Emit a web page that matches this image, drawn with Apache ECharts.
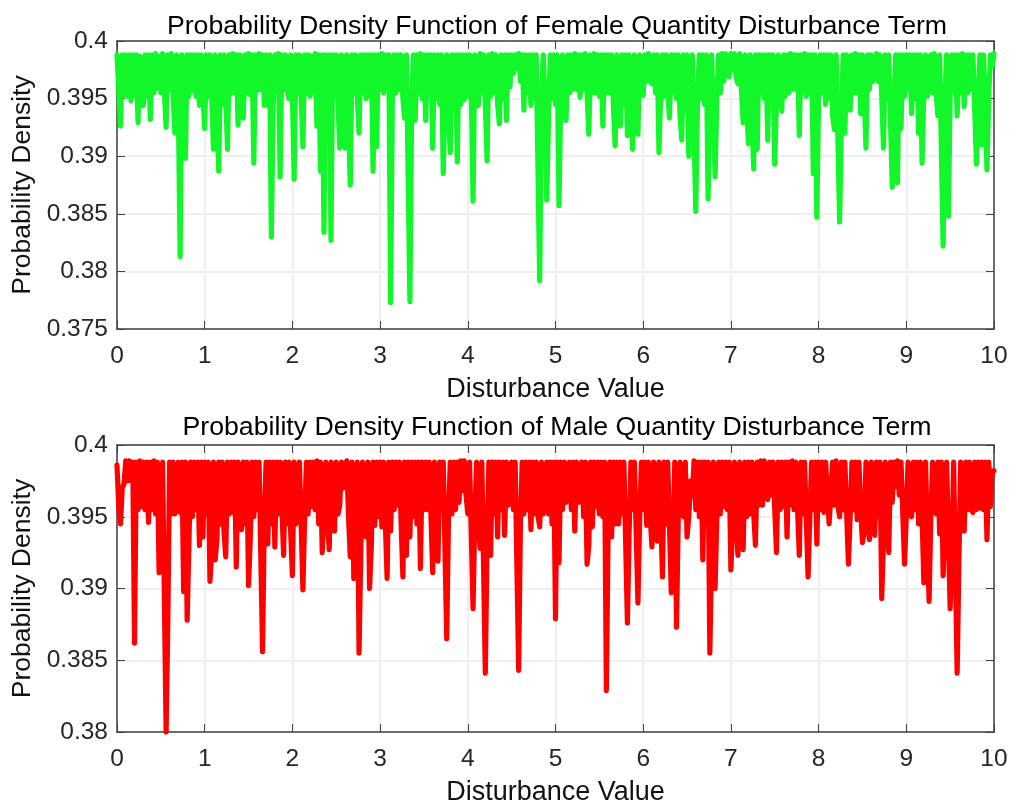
<!DOCTYPE html>
<html><head><meta charset="utf-8">
<style>html,body{margin:0;padding:0;background:#fff;overflow:hidden}#c{width:1022px;height:805px}</style>
<script src="https://cdn.jsdelivr.net/npm/echarts@6/dist/echarts.min.js"></script>
</head><body><div id="c"></div>
<script>
const sampleStep = 0.02;
const femaleTitle = 'Probability Density Function of Female Quantity Disturbance Term';
const maleTitle = 'Probability Density Function of Male Quantity Disturbance Term';
const xName = 'Disturbance Value';
const yName = 'Probability Density';
const femaleValues = [
.3988,.3958,.3926,.3988,.3953,.3988,.3952,.3988,.3948,.3988,
.3953,.3988,.3929,.3987,.3950,.3944,.3988,.3952,.3988,.3932,
.3988,.3955,.3989,.3959,.3987,.3955,.3989,.3957,.3925,.3988,
.3958,.3989,.3952,.3920,.3988,.3940,.3813,.3988,.3930,.3898,
.3988,.3952,.3988,.3957,.3988,.3952,.3988,.3944,.3988,.3952,
.3924,.3988,.3952,.3988,.3952,.3906,.3988,.3935,.3887,.3988,
.3945,.3988,.3952,.3906,.3988,.3955,.3989,.3955,.3988,.3927,
.3988,.3952,.3933,.3988,.3955,.3989,.3953,.3988,.3894,.3988,
.3957,.3989,.3958,.3988,.3944,.3988,.3944,.3988,.3830,.3940,
.3988,.3957,.3989,.3882,.3988,.3958,.3988,.3957,.3950,.3988,
.3955,.3880,.3988,.3955,.3988,.3952,.3908,.3988,.3955,.3988,
.3952,.3987,.3955,.3989,.3926,.3988,.3887,.3988,.3834,.3988,
.3950,.3988,.3827,.3988,.3952,.3988,.3988,.3907,.3988,.3950,
.3907,.3988,.3930,.3875,.3988,.3955,.3988,.3952,.3920,.3988,
.3955,.3988,.3950,.3988,.3952,.3988,.3887,.3988,.3908,.3988,
.3958,.3989,.3955,.3988,.3958,.3988,.3773,.3952,.3988,.3955,
.3988,.3958,.3988,.3950,.3933,.3988,.3988,.3774,.3945,.3988,
.3931,.3988,.3955,.3989,.3950,.3988,.3931,.3988,.3955,.3988,
.3907,.3988,.3950,.3988,.3945,.3988,.3885,.3952,.3988,.3935,
.3903,.3988,.3940,.3988,.3895,.3988,.3945,.3988,.3949,.3988,
.3952,.3988,.3955,.3861,.3988,.3950,.3944,.3989,.3955,.3988,
.3945,.3896,.3988,.3952,.3989,.3955,.3988,.3945,.3928,.3988,
.3950,.3988,.3931,.3988,.3960,.3988,.3972,.3988,.3976,.3989,
.3965,.3988,.3940,.3988,.3955,.3988,.3944,.3988,.3950,.3988,
.3988,.3792,.3950,.3988,.3950,.3862,.3930,.3988,.3950,.3988,
.3945,.3988,.3857,.3952,.3988,.3945,.3931,.3988,.3955,.3988,
.3958,.3989,.3958,.3988,.3951,.3988,.3958,.3989,.3955,.3919,
.3988,.3955,.3989,.3955,.3988,.3952,.3988,.3926,.3988,.3955,
.3988,.3955,.3988,.3945,.3909,.3988,.3988,.3926,.3988,.3945,
.3988,.3918,.3988,.3940,.3906,.3988,.3950,.3919,.3988,.3955,
.3953,.3988,.3965,.3989,.3965,.3963,.3988,.3955,.3988,.3903,
.3955,.3988,.3952,.3988,.3955,.3933,.3988,.3955,.3988,.3950,
.3988,.3935,.3914,.3988,.3940,.3988,.3900,.3952,.3988,.3988,
.3852,.3952,.3988,.3950,.3988,.3945,.3988,.3863,.3950,.3988,
.3988,.3882,.3950,.3988,.3955,.3989,.3965,.3989,.3975,.3969,
.3989,.3975,.3989,.3968,.3963,.3989,.3957,.3929,.3988,.3945,
.3911,.3988,.3935,.3889,.3988,.3906,.3988,.3955,.3988,.3950,
.3988,.3914,.3988,.3952,.3988,.3893,.3950,.3988,.3955,.3939,
.3988,.3952,.3988,.3955,.3989,.3958,.3988,.3958,.3988,.3918,
.3988,.3955,.3989,.3952,.3988,.3955,.3988,.3885,.3988,.3847,
.3950,.3988,.3955,.3988,.3945,.3988,.3950,.3988,.3935,.3923,
.3988,.3988,.3843,.3930,.3988,.3920,.3988,.3952,.3940,.3988,
.3955,.3989,.3955,.3988,.3937,.3988,.3955,.3907,.3988,.3958,
.3988,.3965,.3969,.3989,.3965,.3988,.3952,.3907,.3988,.3950,
.3988,.3988,.3873,.3950,.3988,.3877,.3988,.3924,.3988,.3952,
.3988,.3959,.3988,.3937,.3988,.3950,.3988,.3920,.3988,.3894,
.3958,.3988,.3952,.3953,.3988,.3955,.3989,.3955,.3935,.3988,
.3988,.3822,.3952,.3988,.3848,.3952,.3988,.3957,.3988,.3935,
.3988,.3955,.3989,.3943,.3988,.3955,.3988,.3958,.3988,.3988,
.3893,.3952,.3988,.3910,.3988,.3945,.3888,.3952,.3988,.3978,
.3989];
const maleValues = [
.3986,.3957,.3945,.3970,.3973,.3989,.3975,.3989,.3975,.3988,
.3862,.3988,.3955,.3989,.3957,.3988,.3955,.3988,.3946,.3988,
.3955,.3989,.3952,.3988,.3911,.3950,.3988,.3988,.3800,.3878,
.3988,.3952,.3988,.3952,.3951,.3988,.3953,.3988,.3898,.3988,
.3878,.3930,.3988,.3950,.3988,.3955,.3988,.3930,.3988,.3936,
.3988,.3952,.3988,.3905,.3925,.3988,.3920,.3935,.3988,.3945,
.3988,.3940,.3922,.3988,.3952,.3988,.3953,.3988,.3915,.3988,
.3950,.3941,.3988,.3945,.3988,.3902,.3935,.3988,.3950,.3988,
.3955,.3988,.3988,.3856,.3950,.3988,.3931,.3988,.3945,.3988,
.3929,.3988,.3952,.3988,.3955,.3923,.3988,.3945,.3988,.3940,
.3909,.3988,.3945,.3944,.3988,.3988,.3899,.3950,.3988,.3952,
.3988,.3957,.3988,.3955,.3989,.3945,.3988,.3925,.3952,.3988,
.3950,.3927,.3988,.3950,.3940,.3988,.3952,.3958,.3988,.3970,
.3981,.3989,.3950,.3922,.3988,.3907,.3950,.3988,.3855,.3925,
.3988,.3952,.3936,.3988,.3900,.3930,.3988,.3944,.3988,.3950,
.3988,.3943,.3988,.3945,.3907,.3988,.3940,.3988,.3955,.3988,
.3958,.3988,.3945,.3908,.3988,.3923,.3988,.3936,.3988,.3950,
.3988,.3945,.3988,.3914,.3988,.3955,.3988,.3955,.3988,.3950,
.3911,.3988,.3950,.3919,.3988,.3955,.3988,.3988,.3865,.3950,
.3988,.3952,.3988,.3955,.3988,.3960,.3989,.3968,.3989,.3965,
.3952,.3988,.3988,.3886,.3950,.3988,.3945,.3928,.3988,.3988,
.3841,.3935,.3988,.3923,.3988,.3952,.3988,.3936,.3988,.3955,
.3988,.3937,.3988,.3958,.3963,.3988,.3955,.3988,.3988,.3843,
.3945,.3988,.3952,.3988,.3955,.3988,.3941,.3988,.3952,.3988,
.3951,.3943,.3988,.3952,.3957,.3988,.3952,.3988,.3945,.3988,
.3879,.3988,.3918,.3988,.3955,.3988,.3960,.3966,.3988,.3955,
.3988,.3940,.3988,.3960,.3966,.3988,.3950,.3988,.3917,.3930,
.3988,.3943,.3988,.3957,.3988,.3952,.3988,.3950,.3988,.3829,
.3940,.3988,.3936,.3988,.3945,.3988,.3945,.3988,.3952,.3988,
.3988,.3876,.3940,.3988,.3955,.3988,.3988,.3890,.3950,.3988,
.3955,.3988,.3944,.3988,.3950,.3929,.3988,.3950,.3933,.3988,
.3950,.3908,.3988,.3945,.3988,.3988,.3897,.3930,.3988,.3873,
.3950,.3988,.3955,.3950,.3988,.3936,.3950,.3975,.3964,.3989,
.3955,.3988,.3950,.3988,.3920,.3988,.3945,.3988,.3855,.3925,
.3988,.3900,.3950,.3988,.3952,.3988,.3957,.3988,.3955,.3988,
.3913,.3945,.3988,.3950,.3923,.3988,.3950,.3927,.3988,.3950,
.3988,.3952,.3988,.3952,.3930,.3988,.3958,.3989,.3958,.3989,
.3965,.3962,.3988,.3965,.3988,.3955,.3925,.3988,.3955,.3988,
.3957,.3988,.3936,.3988,.3958,.3989,.3955,.3988,.3955,.3923,
.3988,.3952,.3988,.3988,.3908,.3950,.3988,.3955,.3988,.3931,
.3988,.3955,.3988,.3953,.3988,.3988,.3945,.3945,.3988,.3958,
.3989,.3958,.3950,.3988,.3955,.3988,.3988,.3917,.3950,.3988,
.3955,.3988,.3948,.3988,.3955,.3932,.3940,.3988,.3945,.3934,
.3988,.3955,.3937,.3988,.3950,.3988,.3893,.3935,.3988,.3950,
.3925,.3988,.3960,.3988,.3971,.3989,.3965,.3988,.3988,.3917,
.3950,.3988,.3955,.3950,.3988,.3955,.3988,.3945,.3988,.3950,
.3904,.3988,.3935,.3891,.3950,.3988,.3955,.3952,.3988,.3938,
.3988,.3909,.3945,.3988,.3988,.3886,.3925,.3988,.3988,.3841,
.3920,.3988,.3955,.3940,.3988,.3955,.3988,.3955,.3953,.3988,
.3955,.3988,.3956,.3988,.3955,.3988,.3934,.3988,.3957,.3982,
.3982];
const toPoints = v => v.map((y,i)=>[i*sampleStep,y]);
const FONT = '"Liberation Sans", Arial, sans-serif';
const AX = '#404040';
const lbl = {color:'#262626',fontFamily:FONT,fontSize:24.5};
const nm = {color:'#111',fontFamily:FONT,fontSize:27};
function xAxes(g){return [
 {gridIndex:g,type:'value',min:0,max:10,interval:1,position:'bottom',
  name:xName,nameLocation:'middle',nameGap:47,nameTextStyle:nm,
  axisLine:{show:true,lineStyle:{color:AX,width:1.5}},
  axisTick:{show:true,inside:true,length:8,lineStyle:{color:AX}},
  axisLabel:{...lbl,margin:15},
  splitLine:{show:true,lineStyle:{color:'#efeff0',width:2}}},
 {gridIndex:g,type:'value',min:0,max:10,interval:1,position:'top',
  axisLine:{show:true,onZero:false,lineStyle:{color:AX,width:1.5}},
  axisTick:{show:true,inside:true,length:8,lineStyle:{color:AX}},
  axisLabel:{show:false},splitLine:{show:false}}];}
function yAxes(g,min){return [
 {gridIndex:g,type:'value',min:min,max:0.4,interval:0.005,position:'left',
  name:yName,nameLocation:'middle',nameGap:77,nameTextStyle:{...nm,fontSize:26.5},
  axisLine:{show:true,onZero:false,lineStyle:{color:AX,width:1.5}},
  axisTick:{show:true,inside:true,length:8,lineStyle:{color:AX}},
  axisLabel:{...lbl,margin:9,padding:[5,0,0,0],formatter:v=>String(+v.toFixed(3))},
  splitLine:{show:true,lineStyle:{color:'#efeff0',width:2}}},
 {gridIndex:g,type:'value',min:min,max:0.4,interval:0.005,position:'right',
  axisLine:{show:true,onZero:false,lineStyle:{color:AX,width:1.5}},
  axisTick:{show:true,inside:true,length:8,lineStyle:{color:AX}},
  axisLabel:{show:false},splitLine:{show:false}}];}
function line(name,data,color,x,y){return {name,type:'line',xAxisIndex:x,yAxisIndex:y,data,
  showSymbol:false,symbol:'none',clip:false,smooth:false,sampling:'none',animation:false,
  lineStyle:{color,width:5.2,join:'round',cap:'round'},itemStyle:{color}};}
const chart = echarts.init(document.getElementById('c'),null,{renderer:'canvas'});
chart.setOption({
 animation:false,backgroundColor:'#fff',
 title:[
  {text:femaleTitle,left:552,top:8,textAlign:'center',textStyle:{...nm,fontSize:26.7,fontWeight:'normal',color:'#000'}},
  {text:maleTitle,left:552,top:409,textAlign:'center',textStyle:{...nm,fontSize:26.7,fontWeight:'normal',color:'#000'}}],
 grid:[{left:117,right:28,top:41,height:288,outerBoundsMode:'none'},{left:117,right:28,top:445,height:287,outerBoundsMode:'none'}],
 xAxis:[...xAxes(0),...xAxes(1)],
 yAxis:[...yAxes(0,0.375),...yAxes(1,0.38)],
 series:[line('Female',toPoints(femaleValues),'#12F72A',0,0),line('Male',toPoints(maleValues),'#FF0000',2,2)]
});
</script></body></html>
